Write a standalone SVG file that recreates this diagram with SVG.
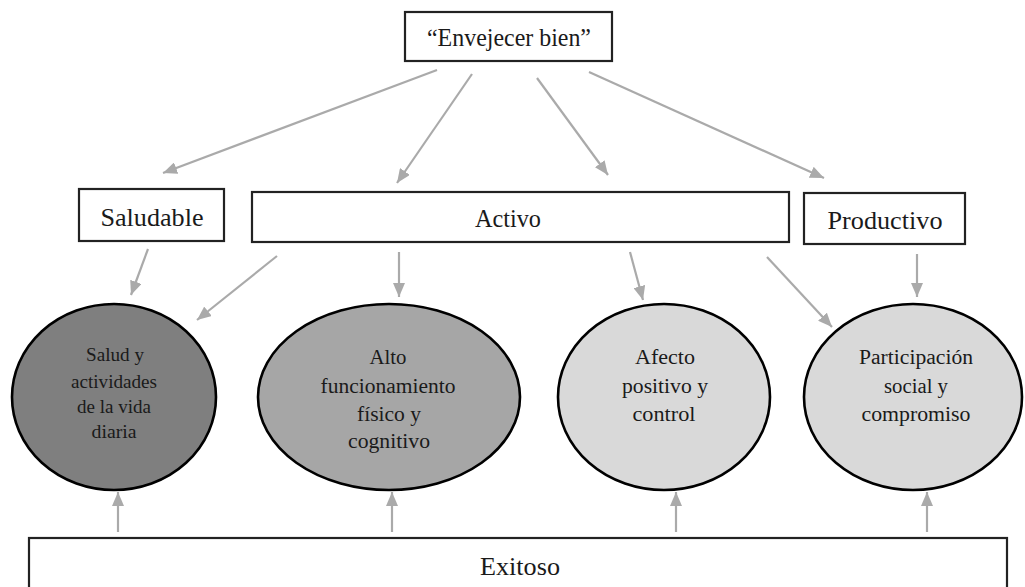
<svg xmlns="http://www.w3.org/2000/svg" width="1025" height="587" viewBox="0 0 1025 587">
<style>
  .box { fill: #ffffff; stroke: #222222; stroke-width: 2.2; }
  .ell { stroke: #000000; stroke-width: 2.6; }
  .lbl { font-family: "Liberation Serif", "Times New Roman", serif; font-size: 25px; fill: #1a1a1a; text-anchor: middle; }
  .etx { font-family: "Liberation Serif", "Times New Roman", serif; font-size: 20.5px; fill: #1a1a1a; text-anchor: middle; }
  .etx1 { font-size: 19.5px; }
  .conn line { stroke: #aaaaaa; stroke-width: 2.2; marker-end: url(#ah); }
</style>
<defs>
  <marker id="ah" markerUnits="userSpaceOnUse" markerWidth="14" markerHeight="12" refX="14" refY="6" orient="auto">
    <path d="M0,0 L14,6 L0,12 z" fill="#aaaaaa"/>
  </marker>
</defs>
<rect width="1025" height="587" fill="#ffffff"/>

<g id="envejecer">
  <rect class="box" x="405" y="12" width="207" height="49"/>
  <text class="lbl" x="509" y="46" textLength="164" lengthAdjust="spacingAndGlyphs">“Envejecer bien”</text>
</g>
<g id="saludable">
  <rect class="box" x="79" y="189" width="145" height="52"/>
  <text class="lbl" x="152" y="226" textLength="103" lengthAdjust="spacingAndGlyphs">Saludable</text>
</g>
<g id="activo">
  <rect class="box" x="252" y="192" width="537" height="50"/>
  <text class="lbl" x="508" y="227" textLength="66" lengthAdjust="spacingAndGlyphs">Activo</text>
</g>
<g id="productivo">
  <rect class="box" x="804" y="193" width="161" height="51"/>
  <text class="lbl" x="885" y="229" textLength="115" lengthAdjust="spacingAndGlyphs">Productivo</text>
</g>

<g id="salud">
  <ellipse class="ell" cx="114" cy="397" rx="102" ry="93" fill="#7f7f7f"/>
  <text class="etx etx1" x="115" y="361" textLength="58" lengthAdjust="spacingAndGlyphs">Salud y</text>
  <text class="etx etx1" x="114" y="388" textLength="86" lengthAdjust="spacingAndGlyphs">actividades</text>
  <text class="etx etx1" x="114" y="413" textLength="74" lengthAdjust="spacingAndGlyphs">de la vida</text>
  <text class="etx etx1" x="114" y="438" textLength="45" lengthAdjust="spacingAndGlyphs">diaria</text>
</g>
<g id="alto">
  <ellipse class="ell" cx="389" cy="397" rx="131" ry="93" fill="#a6a6a6"/>
  <text class="etx" x="388" y="364" textLength="37" lengthAdjust="spacingAndGlyphs">Alto</text>
  <text class="etx" x="388" y="393" textLength="135" lengthAdjust="spacingAndGlyphs">funcionamiento</text>
  <text class="etx" x="389" y="421" textLength="64" lengthAdjust="spacingAndGlyphs">físico y</text>
  <text class="etx" x="389" y="448" textLength="82" lengthAdjust="spacingAndGlyphs">cognitivo</text>
</g>
<g id="afecto">
  <ellipse class="ell" cx="664" cy="397" rx="106" ry="93" fill="#d9d9d9"/>
  <text class="etx" x="665" y="364" textLength="60" lengthAdjust="spacingAndGlyphs">Afecto</text>
  <text class="etx" x="665" y="393" textLength="86" lengthAdjust="spacingAndGlyphs">positivo y</text>
  <text class="etx" x="664" y="421" textLength="63" lengthAdjust="spacingAndGlyphs">control</text>
</g>
<g id="participacion">
  <ellipse class="ell" cx="913" cy="397" rx="109" ry="93" fill="#d9d9d9"/>
  <text class="etx" x="916" y="364" textLength="114" lengthAdjust="spacingAndGlyphs">Participación</text>
  <text class="etx" x="916" y="393" textLength="64" lengthAdjust="spacingAndGlyphs">social y</text>
  <text class="etx" x="916" y="421" textLength="109" lengthAdjust="spacingAndGlyphs">compromiso</text>
</g>

<g id="exitoso">
  <rect class="box" x="29" y="538" width="978" height="60"/>
  <text class="lbl" x="520" y="575" textLength="80" lengthAdjust="spacingAndGlyphs">Exitoso</text>
</g>

<g id="connectors" class="conn">
  <line x1="437" y1="70" x2="163" y2="173"/>
  <line x1="472" y1="74" x2="397" y2="183"/>
  <line x1="537" y1="78" x2="608" y2="175"/>
  <line x1="589" y1="72" x2="824" y2="178"/>
  <line x1="148" y1="249" x2="131" y2="295"/>
  <line x1="277" y1="256" x2="197" y2="320"/>
  <line x1="399" y1="252" x2="399" y2="297"/>
  <line x1="630" y1="252" x2="643" y2="300"/>
  <line x1="767" y1="257" x2="832" y2="327"/>
  <line x1="917" y1="254" x2="917" y2="297"/>
  <line x1="118" y1="532" x2="118" y2="492"/>
  <line x1="392" y1="532" x2="392" y2="492"/>
  <line x1="676" y1="532" x2="676" y2="492"/>
  <line x1="927" y1="532" x2="927" y2="492"/>
</g>
</svg>
